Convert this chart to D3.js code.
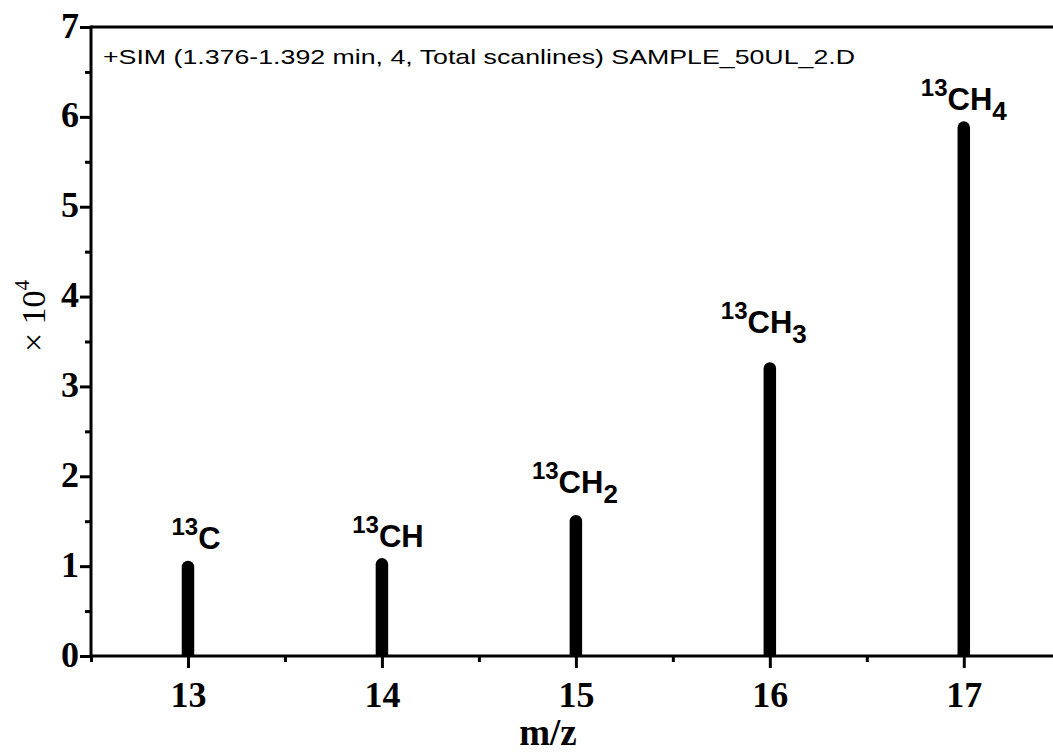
<!DOCTYPE html>
<html>
<head>
<meta charset="utf-8">
<script src="https://cdn.jsdelivr.net/npm/d3@7"></script>
<style>
  html, body { margin: 0; padding: 0; background: #fff; }
  svg { display: block; }
</style>
</head>
<body>
<svg id="chart"></svg>
<script>
// m/z values and peak intensities (counts)
const mzValues = [13, 14, 15, 16, 17];
const intensities = [10600, 10900, 15700, 32700, 59500];
const ionBase = ["C", "CH", "CH", "CH", "CH"];
const ionSub = ["", "", "2", "3", "4"];
const xTicks = [13, 14, 15, 16, 17];
const yTicks = [0, 1, 2, 3, 4, 5, 6, 7];
const titleText = "+SIM (1.376-1.392 min, 4, Total scanlines) SAMPLE_50UL_2.D";

const width = 1053, height = 752;
const plotL = 91, plotT = 27, plotB = 656, plotR = 1053;
const scaleFactor = 1e4;

// small hand nudges for the peak labels (layout only)
const labelDx = [8, 6, -1, -6, 0];
const labelGap = [12, 11, 22, 29, 11];

const svg = d3.select("#chart").attr("width", width).attr("height", height);

const x = d3.scaleLinear().domain([12.5, 17.46]).range([plotL, plotR]);
const y = d3.scaleLinear().domain([0, 7]).range([plotB, plotT]);

const serif = "'Liberation Serif', 'Times New Roman', serif";
const sans = "'Liberation Sans', Arial, sans-serif";

// minor ticks
const xMinor = d3.range(12.5, 17.5, 1);
const yMinor = d3.range(0.5, 7, 1);

const xAxis = svg.append("g").attr("transform", `translate(0,${plotB})`)
  .call(d3.axisBottom(x).tickValues(xTicks).tickSize(12).tickPadding(13).tickFormat(d3.format("d")));
const xAxisMinor = svg.append("g").attr("transform", `translate(0,${plotB})`)
  .call(d3.axisBottom(x).tickValues(xMinor).tickSize(6).tickFormat(""));
const yAxis = svg.append("g").attr("transform", `translate(${plotL},0)`)
  .call(d3.axisLeft(y).tickValues(yTicks).tickSize(11).tickPadding(1).tickFormat(d3.format("d")));
const yAxisMinor = svg.append("g").attr("transform", `translate(${plotL},0)`)
  .call(d3.axisLeft(y).tickValues(yMinor).tickSize(6).tickFormat(""));

[xAxis, xAxisMinor, yAxis, yAxisMinor].forEach(g => {
  g.select(".domain").remove();
  g.selectAll("line").attr("stroke", "#000").attr("stroke-width", 3);
  g.selectAll("text").attr("fill", "#000")
    .style("font-family", serif).style("font-weight", "bold").style("font-size", "36px");
});
yAxis.selectAll("text").attr("dy", "0.28em");
xAxis.selectAll("text").attr("dy", "0.71em");

// frame lines
svg.append("line").attr("x1", plotL).attr("x2", plotR).attr("y1", plotB).attr("y2", plotB)
  .attr("stroke", "#000").attr("stroke-width", 3);
svg.append("line").attr("x1", plotL).attr("x2", plotR).attr("y1", plotT).attr("y2", plotT)
  .attr("stroke", "#000").attr("stroke-width", 3);
svg.append("line").attr("x1", plotL).attr("x2", plotL).attr("y1", plotT - 1.5).attr("y2", plotB + 1.5)
  .attr("stroke", "#000").attr("stroke-width", 3);

// peaks: thick sticks with rounded tops
const barW = 12.5;
svg.append("g").selectAll("path").data(mzValues).join("path")
  .attr("fill", "#000")
  .attr("d", (d, i) => {
    const cx = x(d), yt = y(intensities[i] / scaleFactor), r = barW / 2;
    const p = d3.path();
    p.moveTo(cx - r, y(0));
    p.lineTo(cx - r, yt + r);
    p.arc(cx, yt + r, r, Math.PI, 0);
    p.lineTo(cx + r, y(0));
    p.closePath();
    return p.toString();
  });

// peak labels
const labels = svg.append("g").selectAll("text").data(mzValues).join("text")
  .attr("transform", (d, i) =>
    `translate(${x(d) + labelDx[i]},${y(intensities[i] / scaleFactor) - labelGap[i]})`)
  .attr("text-anchor", "middle")
  .style("font-family", sans).style("font-weight", "bold").style("font-size", "31px");
labels.each(function(d, i) {
  const t = d3.select(this);
  t.append("tspan").text("13").style("font-size", "24px").attr("dy", -14);
  t.append("tspan").text(ionBase[i]).attr("dy", 14);
  if (ionSub[i]) t.append("tspan").text(ionSub[i]).style("font-size", "26px").attr("dy", 10);
});

// title inside plot
svg.append("text").attr("x", 103).attr("y", 64).text(titleText)
  .attr("textLength", 752).attr("lengthAdjust", "spacingAndGlyphs")
  .style("font-family", sans).style("font-size", "21px").attr("fill", "#000");

// axis titles
svg.append("text").attr("x", 548).attr("y", 745).attr("text-anchor", "middle").text("m/z")
  .style("font-family", serif).style("font-weight", "bold").style("font-size", "37px");

const yl = svg.append("text").attr("transform", "translate(45,316) rotate(-90)")
  .attr("text-anchor", "middle")
  .style("font-family", serif).style("font-size", "34px");
yl.append("tspan").text("\u00d7 10");
yl.append("tspan").text("4").style("font-size", "21px").attr("dy", "-0.75em");
</script>
</body>
</html>
